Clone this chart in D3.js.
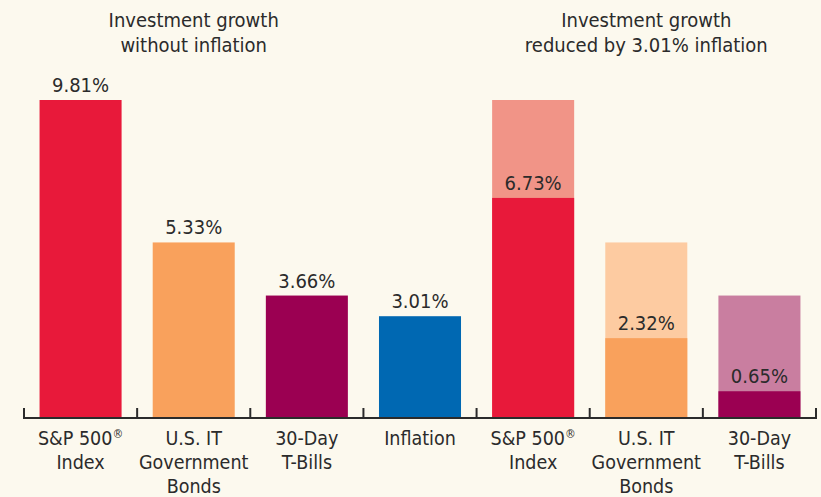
<!DOCTYPE html>
<html><head><meta charset="utf-8">
<script src="https://cdn.jsdelivr.net/npm/d3@7"></script>
<style>
html,body{margin:0;padding:0;background:#fcf9ee;}
svg{display:block;}
text{font-family:"DejaVu Sans Condensed","DejaVu Sans",sans-serif;fill:#2b2b2b;}
</style></head>
<body>
<svg id="chart" width="821" height="497"></svg>
<script>
// ---- data ----
const categories = ["sp_l","it_l","tb_l","infl","sp_r","it_r","tb_r"];
const categoryLabels = [["S&P 500®","Index"],["U.S. IT","Government","Bonds"],["30-Day","T-Bills"],["Inflation"],["S&P 500®","Index"],["U.S. IT","Government","Bonds"],["30-Day","T-Bills"]];
const nominalValues = [9.81, 5.33, 3.66, 3.01, 9.81, 5.33, 3.66];
const realValues = [null, null, null, null, 6.73, 2.32, 0.65];
const fullColors = ["#e8193a","#f9a15c","#9b0052","#0068b2","#f19487","#fdcba1","#c97ea0"];
const realColors = [null,null,null,null,"#e8193a","#f9a15c","#9b0052"];
const groupTitles = [["Investment growth","without inflation"],["Investment growth","reduced by 3.01% inflation"]];
const groupSpans = [[0,2],[4,6]]; // bar index ranges under each title

const svg = d3.select("#chart");
const axisY = 417;

const xTick = d3.scaleBand().domain(categories).range([24, 816]).padding(0);
const x = d3.scaleBand().domain(categories).range([24, 816]).paddingInner(0.275).paddingOuter(0.1375);
const y = d3.scaleLinear().domain([-0.16, 9.81]).range([axisY, 100]);

const fmt = d => d.toFixed(2) + "%";

// full bars
svg.append("g").selectAll("rect").data(categories).join("rect")
  .attr("x", d => x(d)).attr("width", x.bandwidth())
  .attr("y", (d,i) => y(nominalValues[i]))
  .attr("height", (d,i) => axisY - y(nominalValues[i]))
  .attr("fill", (d,i) => fullColors[i]);

// real-return bars
const realIdx = categories.map((c,i)=>i).filter(i => realValues[i] != null);
svg.append("g").selectAll("rect").data(realIdx).join("rect")
  .attr("x", i => x(categories[i])).attr("width", x.bandwidth())
  .attr("y", i => y(realValues[i]))
  .attr("height", i => axisY - y(realValues[i]))
  .attr("fill", i => realColors[i]);

// value labels
svg.append("g").selectAll("text").data(categories).join("text")
  .attr("x", d => x(d) + x.bandwidth()/2)
  .attr("y", (d,i) => realValues[i] != null ? y(realValues[i]) - 8 : y(nominalValues[i]) - 8)
  .attr("text-anchor","middle").attr("font-size", 20)
  .text((d,i) => fmt(realValues[i] != null ? realValues[i] : nominalValues[i]));

// axis
svg.append("line").attr("x1", 23).attr("x2", 817).attr("y1", axisY+1).attr("y2", axisY+1)
  .attr("stroke","#2b2b2b").attr("stroke-width",2);
const edges = categories.map(c => xTick(c)).concat([xTick.range()[1]]);
svg.append("g").selectAll("line").data(edges).join("line")
  .attr("x1", d => d).attr("x2", d => d).attr("y1", axisY-9).attr("y2", axisY+1)
  .attr("stroke","#2b2b2b").attr("stroke-width",2);

// category labels
const lab = svg.append("g").selectAll("text").data(categories).join("text")
  .attr("text-anchor","middle").attr("font-size", 19.5)
  .attr("x", d => xTick(d) + xTick.bandwidth()/2);
lab.each(function(d,i){
  const t = d3.select(this);
  categoryLabels[i].forEach((line,j) => {
    const ts = t.append("tspan").attr("x", xTick(d) + xTick.bandwidth()/2).attr("y", 445 + j*24);
    if (line.endsWith("®")) {
      ts.text(line.slice(0,-1));
      ts.append("tspan").attr("font-size", 12).attr("dy", -7).text("®");
    } else ts.text(line);
  });
});

// group titles
groupTitles.forEach((lines, g) => {
  const [a,b] = groupSpans[g];
  const cx = (x(categories[a]) + x(categories[b]) + x.bandwidth())/2;
  const t = svg.append("text").attr("text-anchor","middle").attr("font-size",20);
  lines.forEach((line,j) => t.append("tspan").attr("x", cx).attr("y", 27 + j*25).text(line));
});
</script>
</body></html>
